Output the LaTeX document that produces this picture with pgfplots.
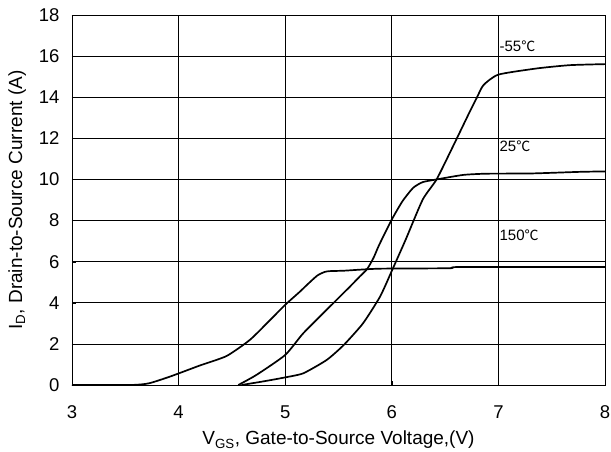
\documentclass[border=0pt]{standalone}
\usepackage{pgfplots}
\pgfplotsset{compat=1.18}
\usepackage{fontspec}
\setmainfont{Liberation Sans}
\newfontfamily\cjk{Noto Sans CJK SC}
\newcommand{\degC}{{\cjk\fontsize{14}{16}\selectfont ℃}}

% 150 C
\pgfplotstableread{
x y
3.00 0.00
3.55 0.00
3.72 0.08
3.92 0.41
4.20 0.95
4.45 1.41
4.67 2.20
4.86 3.17
5.00 3.90
5.14 4.55
5.20 4.85
5.30 5.32
5.37 5.50
5.42 5.54
5.55 5.56
5.70 5.61
5.90 5.66
6.54 5.68
6.64 5.74
8.00 5.74
}\tabhot

% 25 C
\pgfplotstableread{
x y
4.56 0.00
4.73 0.49
5.00 1.46
5.17 2.52
5.42 3.82
5.61 4.80
5.70 5.28
5.77 5.65
5.83 6.20
5.88 6.80
6.00 8.05
6.10 8.94
6.20 9.59
6.29 9.87
6.42 10.00
6.67 10.22
6.89 10.28
7.30 10.29
7.77 10.37
8.00 10.39
}\tabroom

% -55 C
\pgfplotstableread{
x y
4.59 0.00
4.80 0.18
5.00 0.37
5.17 0.57
5.39 1.22
5.55 1.95
5.73 3.00
5.89 4.30
6.00 5.55
6.13 7.07
6.29 9.02
6.42 10.00
6.56 11.46
6.73 13.28
6.80 14.00
6.86 14.59
7.00 15.10
7.36 15.40
7.67 15.56
8.00 15.61
}\tabcold

\begin{document}
\begin{tikzpicture}
\begin{axis}[
  scale only axis,
  width=533pt, height=370pt,
  xmin=3, xmax=8, ymin=0, ymax=18,
  xtick={3,4,5,6,7,8},
  ytick={0,2,...,18},
  grid=major,
  major grid style={black, line width=0.7pt},
  axis line style={black, line width=0.8pt},
  tick style={black},
  tick align=inside,
  major tick length=4pt,
  xtick pos=bottom, ytick pos=left,
  /pgf/number format/assume math mode=true,
  ticklabel style={font=\fontsize{18.5}{20}\selectfont},
  xticklabel style={yshift=-17pt},
  yticklabel style={xshift=-9pt},
  label style={font=\fontsize{19}{21}\selectfont},
  xlabel={V\textsubscript{GS}, Gate-to-Source Voltage,(V)},
  ylabel={I\textsubscript{D}, Drain-to-Source Current (A)},
  xlabel style={at={(axis description cs:0.5,-0.162)}, anchor=base},
  ylabel style={at={(axis description cs:-0.120,0.5)}, anchor=north, inner sep=0pt},
  clip=false,
]
\addplot[black, line width=1.7pt, smooth, tension=0.35] table {\tabhot};
\addplot[black, line width=1.7pt, smooth, tension=0.35] table {\tabroom};
\addplot[black, line width=1.7pt, smooth, tension=0.35] table {\tabcold};
\node[anchor=west, font=\fontsize{15}{17}\selectfont, inner sep=1pt] at (axis cs:7.0,16.5) {-55\degC};
\node[anchor=west, font=\fontsize{15}{17}\selectfont, inner sep=1pt] at (axis cs:7.0,11.6) {25\degC};
\node[anchor=west, font=\fontsize{15}{17}\selectfont, inner sep=1pt] at (axis cs:7.0,7.3) {150\degC};
\end{axis}
\pgfresetboundingbox
\path[use as bounding box] (-72pt,-67pt) rectangle (539pt,385pt);
\end{tikzpicture}
\end{document}
